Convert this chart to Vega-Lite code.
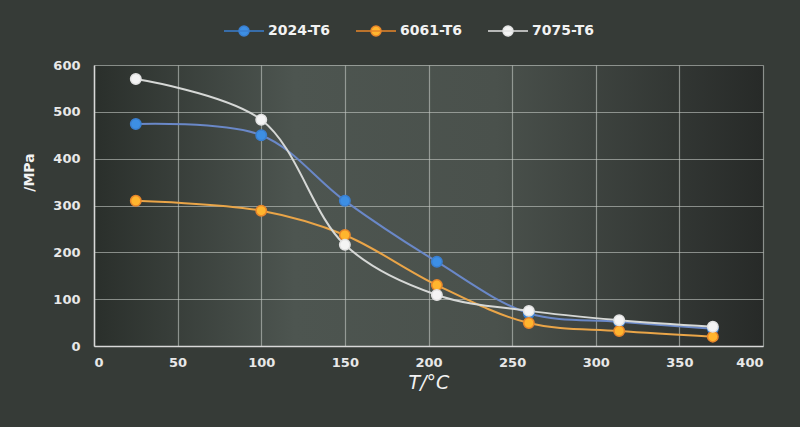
{
  "$schema": "https://vega.github.io/schema/vega-lite/v6.json",
  "width": 669,
  "height": 281,
  "autosize": {"type": "none"},
  "padding": {"left": 94, "top": 65, "right": 37, "bottom": 81},
  "background": "#363b37",
  "config": {
    "font": "DejaVu Sans",
    "view": {
      "stroke": null,
      "fill": {
        "gradient": "linear",
        "x1": 0, "y1": 0, "x2": 1, "y2": 0,
        "stops": [
          {"offset": 0, "color": "#2a2f2b"},
          {"offset": 0.3, "color": "#4d5550"},
          {"offset": 0.6, "color": "#4a514c"},
          {"offset": 1, "color": "#272a28"}
        ]
      }
    }
  },
  "data": {
    "values": [
      {"T": 25, "MPa": 474, "alloy": "2024-T6"},
      {"T": 100, "MPa": 450, "alloy": "2024-T6"},
      {"T": 150, "MPa": 310, "alloy": "2024-T6"},
      {"T": 205, "MPa": 180, "alloy": "2024-T6"},
      {"T": 260, "MPa": 70, "alloy": "2024-T6"},
      {"T": 314, "MPa": 52, "alloy": "2024-T6"},
      {"T": 370, "MPa": 37, "alloy": "2024-T6"},
      {"T": 25, "MPa": 310, "alloy": "6061-T6"},
      {"T": 100, "MPa": 289, "alloy": "6061-T6"},
      {"T": 150, "MPa": 237, "alloy": "6061-T6"},
      {"T": 205, "MPa": 130, "alloy": "6061-T6"},
      {"T": 260, "MPa": 49, "alloy": "6061-T6"},
      {"T": 314, "MPa": 32, "alloy": "6061-T6"},
      {"T": 370, "MPa": 20, "alloy": "6061-T6"},
      {"T": 25, "MPa": 570, "alloy": "7075-T6"},
      {"T": 100, "MPa": 483, "alloy": "7075-T6"},
      {"T": 150, "MPa": 216, "alloy": "7075-T6"},
      {"T": 205, "MPa": 109, "alloy": "7075-T6"},
      {"T": 260, "MPa": 75, "alloy": "7075-T6"},
      {"T": 314, "MPa": 55, "alloy": "7075-T6"},
      {"T": 370, "MPa": 41, "alloy": "7075-T6"}
    ]
  },
  "encoding": {
    "x": {
      "field": "T", "type": "quantitative",
      "scale": {"domain": [0, 400], "nice": false},
      "axis": {
        "values": [0, 50, 100, 150, 200, 250, 300, 350, 400],
        "title": "T/°C",
        "titleColor": "#f2f2f2", "titleFontSize": 19, "titleFontStyle": "italic", "titleFontWeight": "normal",
        "titlePadding": 4,
        "labelColor": "#e8e8e8", "labelFontSize": 13, "labelFontWeight": "bold", "labelPadding": 10,
        "ticks": false,
        "domainColor": "#d8d8d8", "domainWidth": 1.5,
        "gridColor": "#c4cac4", "gridOpacity": 0.6, "gridWidth": 1.2
      }
    },
    "y": {
      "field": "MPa", "type": "quantitative",
      "scale": {"domain": [0, 600], "nice": false},
      "axis": {
        "values": [0, 100, 200, 300, 400, 500, 600],
        "title": "/MPa",
        "titleColor": "#f2f2f2", "titleFontSize": 14, "titleFontWeight": "bold",
        "titleX": -58, "titleY": 107, "titleAngle": -90, "titleAlign": "center", "titleBaseline": "bottom",
        "labelColor": "#e8e8e8", "labelFontSize": 13, "labelFontWeight": "bold", "labelPadding": 14,
        "ticks": false,
        "domainColor": "#d8d8d8", "domainWidth": 1.5,
        "gridColor": "#c4cac4", "gridOpacity": 0.6, "gridWidth": 1.2
      }
    }
  },
  "layer": [
    {
      "mark": {"type": "line", "interpolate": "catmull-rom", "strokeWidth": 2},
      "encoding": {
        "color": {
          "field": "alloy", "type": "nominal",
          "scale": {"domain": ["2024-T6", "6061-T6", "7075-T6"], "range": ["#6a88c8", "#eaa548", "#d6d8d6"]},
          "legend": null
        }
      }
    },
    {
      "mark": {"type": "point", "filled": true, "size": 110, "opacity": 1, "strokeWidth": 1.5},
      "encoding": {
        "fill": {
          "field": "alloy", "type": "nominal",
          "scale": {"domain": ["2024-T6", "6061-T6", "7075-T6"], "range": ["#3d8fe4", "#ffb52e", "#f4f4f4"]},
          "legend": {
            "orient": "none",
            "direction": "horizontal",
            "legendX": 129,
            "legendY": -55,
            "title": null,
            "symbolType": "M-1,0L1,0M0.25,0A0.25,0.25,0,1,1,-0.25,0A0.25,0.25,0,1,1,0.25,0Z",
            "symbolSize": 1600,
            "symbolStrokeWidth": 1.5,
            "labelColor": "#f2f2f2",
            "labelFontSize": 14,
            "labelFontWeight": "bold",
            "labelOffset": 3,
            "columnPadding": 22
          }
        },
        "stroke": {
          "field": "alloy", "type": "nominal",
          "scale": {"domain": ["2024-T6", "6061-T6", "7075-T6"], "range": ["#3a7fd0", "#e8862a", "#e2e2e2"]},
          "legend": null
        }
      }
    }
  ],
  "resolve": {"scale": {"color": "independent"}}
}
